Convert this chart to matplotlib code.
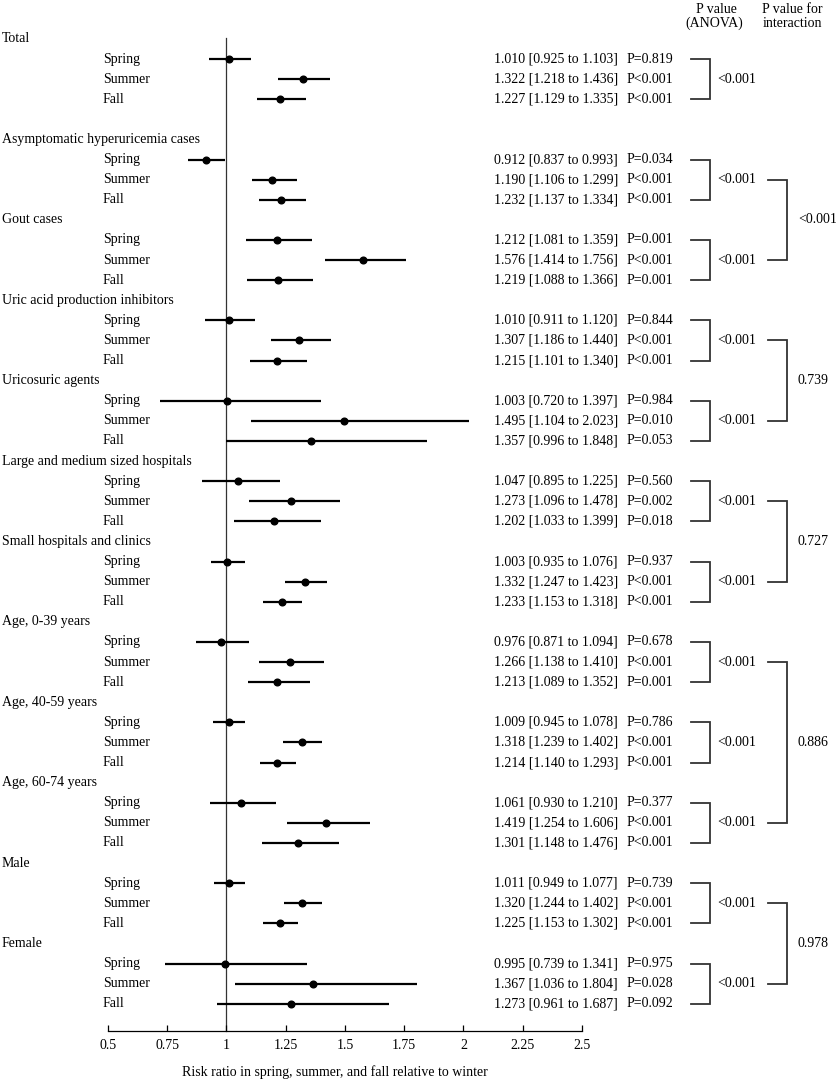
import matplotlib
matplotlib.use("Agg")
import matplotlib.pyplot as plt

plt.rcParams['font.family'] = ['Liberation Serif', 'DejaVu Serif']
plt.rcParams['font.size'] = 10

groups = ["Total", "Asymptomatic hyperuricemia cases", "Gout cases",
          "Uric acid production inhibitors", "Uricosuric agents",
          "Large and medium sized hospitals", "Small hospitals and clinics",
          "Age, 0-39 years", "Age, 40-59 years", "Age, 60-74 years",
          "Male", "Female"]
seasons = ["Spring", "Summer", "Fall"]

rr = [[1.010, 1.322, 1.227], [0.912, 1.190, 1.232], [1.212, 1.576, 1.219],
      [1.010, 1.307, 1.215], [1.003, 1.495, 1.357], [1.047, 1.273, 1.202],
      [1.003, 1.332, 1.233], [0.976, 1.266, 1.213], [1.009, 1.318, 1.214],
      [1.061, 1.419, 1.301], [1.011, 1.320, 1.225], [0.995, 1.367, 1.273]]
lo = [[0.925, 1.218, 1.129], [0.837, 1.106, 1.137], [1.081, 1.414, 1.088],
      [0.911, 1.186, 1.101], [0.720, 1.104, 0.996], [0.895, 1.096, 1.033],
      [0.935, 1.247, 1.153], [0.871, 1.138, 1.089], [0.945, 1.239, 1.140],
      [0.930, 1.254, 1.148], [0.949, 1.244, 1.153], [0.739, 1.036, 0.961]]
hi = [[1.103, 1.436, 1.335], [0.993, 1.299, 1.334], [1.359, 1.756, 1.366],
      [1.120, 1.440, 1.340], [1.397, 2.023, 1.848], [1.225, 1.478, 1.399],
      [1.076, 1.423, 1.318], [1.094, 1.410, 1.352], [1.078, 1.402, 1.293],
      [1.210, 1.606, 1.476], [1.077, 1.402, 1.302], [1.341, 1.804, 1.687]]
pvals = [["P=0.819", "P<0.001", "P<0.001"], ["P=0.034", "P<0.001", "P<0.001"],
         ["P=0.001", "P<0.001", "P=0.001"], ["P=0.844", "P<0.001", "P<0.001"],
         ["P=0.984", "P=0.010", "P=0.053"], ["P=0.560", "P=0.002", "P=0.018"],
         ["P=0.937", "P<0.001", "P<0.001"], ["P=0.678", "P<0.001", "P=0.001"],
         ["P=0.786", "P<0.001", "P<0.001"], ["P=0.377", "P<0.001", "P<0.001"],
         ["P=0.739", "P<0.001", "P<0.001"], ["P=0.975", "P=0.028", "P=0.092"]]
anova = ["<0.001"] * 12

# interaction: (first group, last group, p value)
interaction = [(1, 2, "<0.001"), (3, 4, "0.739"), (5, 6, "0.727"),
               (7, 9, "0.886"), (10, 11, "0.978")]

ticks = [0.5, 0.75, 1, 1.25, 1.5, 1.75, 2, 2.25, 2.5]
tick_labels = ["0.5", "0.75", "1", "1.25", "1.5", "1.75", "2", "2.25", "2.5"]


# pixel -> data helpers (layout only)
def px(xp):
    return 0.5 + (xp - 108) / 237.0


ROW0, ROWH = 39.0, 20.1


def py(yp):
    return (yp - ROW0) / ROWH


def header_row(g):
    return 0 if g == 0 else 5 + 4 * (g - 1)


fig = plt.figure(figsize=(8.37, 10.83), dpi=100)
ax = fig.add_axes([0, 0, 1, 1])
ax.set_xlim(px(0), px(837))
ax.set_ylim(py(1083), py(0))

axis_row = py(1031)
ax.plot([1, 1], [py(38), axis_row], color='#333333', lw=0.9, zorder=1)

for g, name in enumerate(groups):
    h = header_row(g)
    ax.text(px(2), h, name, ha='left', va='center')
    for s in range(3):
        r = h + 1 + s
        ax.text(px(103), r, seasons[s], ha='left', va='center')
        ax.hlines(r, lo[g][s], hi[g][s], color='black', lw=1.6, zorder=2)
        ax.plot(rr[g][s], r, 'o', color='black', ms=4.8, zorder=3)
        ax.text(px(494), r, f"{rr[g][s]:.3f} [{lo[g][s]:.3f} to {hi[g][s]:.3f}]",
                ha='left', va='center')
        ax.text(px(627), r, pvals[g][s], ha='left', va='center')
    # ANOVA bracket
    ax.plot([px(691), px(710), px(710), px(691)], [h + 1, h + 1, h + 3, h + 3],
            color='#333333', lw=1.3, solid_joinstyle='miter')
    ax.text(px(717), h + 2, anova[g], ha='left', va='center')

for g1, g2, p in interaction:
    r1 = header_row(g1) + 2
    r2 = header_row(g2) + 2
    ax.plot([px(768), px(787), px(787), px(768)], [r1, r1, r2, r2],
            color='#333333', lw=1.3, solid_joinstyle='miter')
    ax.text(px(798), (r1 + r2) / 2, p, ha='left', va='center')

ax.text(px(716), py(13), "P value", ha='center', va='baseline')
ax.text(px(714), py(27), "(ANOVA)", ha='center', va='baseline')
ax.text(px(792), py(13), "P value for", ha='center', va='baseline')
ax.text(px(792), py(27), "interaction", ha='center', va='baseline')

for side in ['top', 'right', 'left']:
    ax.spines[side].set_visible(False)
ax.spines['bottom'].set_position(('data', axis_row))
ax.spines['bottom'].set_bounds(0.5, 2.5)
ax.spines['bottom'].set_linewidth(0.9)
ax.set_xticks(ticks)
ax.set_xticklabels(tick_labels)
ax.set_yticks([])
ax.tick_params(axis='x', direction='in', length=4, width=0.9, pad=6)
ax.text(px(182), py(1072), "Risk ratio in spring, summer, and fall relative to winter",
        ha='left', va='center')

fig.savefig("out.png", dpi=100)
